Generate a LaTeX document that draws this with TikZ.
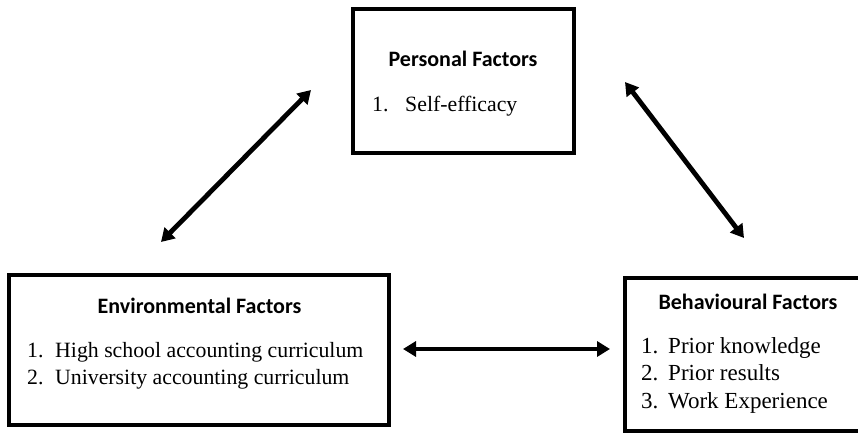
\documentclass[tikz,border=0pt]{standalone}
\usepackage{fontspec}
\setmainfont{Liberation Serif}
\newfontfamily\headfont{Carlito}
\usetikzlibrary{arrows.meta}
\tikzset{
  box/.style={draw=black, line width=4pt, rectangle, inner sep=0pt, fill=white},
  head/.style={inner sep=0pt, anchor=base, font=\headfont\bfseries\fontsize{22pt}{26pt}\selectfont},
  item/.style={inner sep=0pt, anchor=base west, font=\fontsize{21.8pt}{26pt}\selectfont},
  bitem/.style={inner sep=0pt, anchor=base west, font=\fontsize{23pt}{27pt}\selectfont},
  link/.style={line width=4.8pt, {Triangle[length=13pt,width=15pt]}-{Triangle[length=13pt,width=15pt]}}
}
\begin{document}
\begin{tikzpicture}[x=1pt,y=-1pt]
\useasboundingbox (0,0) rectangle (858,435);
\clip (0,0) rectangle (858,435);
\fill[white] (0,0) rectangle (858,435);
% boxes
\node[box, minimum width=221pt, minimum height=144pt] (pers) at (463.5,81) {};
\node[box, minimum width=380pt, minimum height=150pt] (env) at (199,350) {};
\node[box, minimum width=245pt, minimum height=153pt] (beh) at (747.5,354.5) {};
% personal
\node[head] (persh) at (463,67) {Personal Factors};
\node[item] (p1n) at (372,112) {1.};
\node[item] (p1) at (405,112) {Self-efficacy};
% environmental
\node[head] (envh) at (199.5,313) {Environmental Factors};
\node[item] (e1n) at (27,357) {1.};
\node[item] (e1) at (55,357) {High school accounting curriculum};
\node[item] (e2n) at (27,384) {2.};
\node[item] (e2) at (55,384) {University accounting curriculum};
% behavioural
\node[head] (behh) at (748,309) {Behavioural Factors};
\node[bitem] (b1n) at (641,353) {1.};
\node[bitem] (b1) at (668,353) {Prior knowledge};
\node[bitem] (b2n) at (641,380.5) {2.};
\node[bitem] (b2) at (668,380.5) {Prior results};
\node[bitem] (b3n) at (641,408) {3.};
\node[bitem] (b3) at (668,408) {Work Experience};
% arrows
\coordinate (a1s) at (161,242);
\coordinate (a1e) at (311,90);
\coordinate (a2s) at (625,82);
\coordinate (a2e) at (744,238);
\coordinate (a3s) at (403,349);
\coordinate (a3e) at (610,349);
\draw[link] (a1s) -- (a1e);
\draw[link] (a2s) -- (a2e);
\draw[link] (a3s) -- (a3e);
\end{tikzpicture}
\end{document}
